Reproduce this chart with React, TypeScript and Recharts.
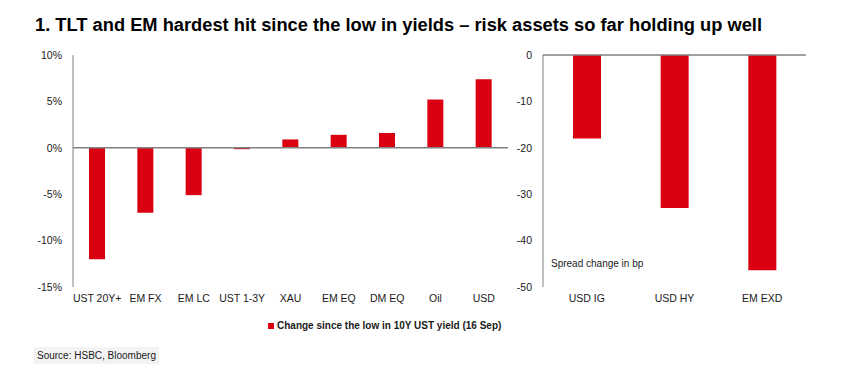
import { Bar, BarChart, ReferenceLine, XAxis, YAxis } from 'recharts';

const ASSETS = ['UST 20Y+', 'EM FX', 'EM LC', 'UST 1-3Y', 'XAU', 'EM EQ', 'DM EQ', 'Oil', 'USD'];
const ASSET_CHANGE = [-12.0, -7.0, -5.1, -0.15, 0.9, 1.4, 1.6, 5.2, 7.4];
const PCT_TICKS = [-15, -10, -5, 0, 5, 10];

const SPREADS = ['USD IG', 'USD HY', 'EM EXD'];
const SPREAD_CHANGE = [-18, -33, -46.4];
const BP_TICKS = [-50, -40, -30, -20, -10, 0];

const RED = '#db0011';
const GREY = '#808080';
const FONT = "'Liberation Sans', Arial, sans-serif";
const tick = { fill: '#1a1a1a', fontSize: 10.5, fontFamily: FONT };

export default function App() {
  const left = ASSETS.map((name, i) => ({ name, v: ASSET_CHANGE[i] }));
  const right = SPREADS.map((name, i) => ({ name, v: SPREAD_CHANGE[i] }));

  return (
    <div style={{ position: 'absolute', left: 0, top: 0, width: 865, height: 369, background: '#fff', fontFamily: FONT }}>
      <div
        style={{
          position: 'absolute',
          left: 35,
          top: 16,
          fontSize: 18.3,
          lineHeight: '18px',
          fontWeight: 'bold',
          color: '#000',
          whiteSpace: 'nowrap',
        }}
      >
        1. TLT and EM hardest hit since the low in yields – risk assets so far holding up well
      </div>

      <div style={{ position: 'absolute', left: 0, top: 0 }}>
        <BarChart width={520} height={320} data={left} margin={{ top: 55, right: 0, left: 0, bottom: 13 }}>
          <XAxis dataKey="name" axisLine={false} tickLine={false} tick={tick} interval={0} height={20} />
          <YAxis
            domain={[-15, 10]}
            ticks={PCT_TICKS}
            width={73}
            tickLine={false}
            tickMargin={5}
            axisLine={{ stroke: GREY }}
            tick={tick}
            tickFormatter={(v: number) => `${v}%`}
          />
          <YAxis
            yAxisId="r"
            orientation="right"
            domain={[-15, 10]}
            ticks={PCT_TICKS}
            width={12}
            axisLine={false}
            tickSize={4}
            tickLine={{ stroke: '#9a8a7a' }}
            tickFormatter={() => ''}
          />
          <ReferenceLine y={0} stroke={GREY} strokeWidth={1.5} />
          <Bar dataKey="v" fill={RED} barSize={16} isAnimationActive={false} />
        </BarChart>
      </div>

      <div style={{ position: 'absolute', left: 470, top: 0 }}>
        <BarChart width={350} height={320} data={right} margin={{ top: 55, right: 14, left: 0, bottom: 13 }}>
          <XAxis dataKey="name" axisLine={false} tickLine={false} tick={tick} interval={0} height={20} />
          <YAxis
            domain={[-50, 0]}
            ticks={BP_TICKS}
            width={73}
            tickLine={false}
            tickMargin={5}
            axisLine={{ stroke: GREY }}
            tick={tick}
          />
          <ReferenceLine y={0} stroke={GREY} strokeWidth={1.5} />
          <Bar dataKey="v" fill={RED} barSize={28} isAnimationActive={false} />
        </BarChart>
      </div>

      <div style={{ position: 'absolute', left: 551, top: 258, fontSize: 10, color: '#1a1a1a' }}>Spread change in bp</div>

      <div
        style={{
          position: 'absolute',
          left: 268,
          top: 319,
          fontSize: 10,
          lineHeight: '13px',
          fontWeight: 'bold',
          color: '#1a1a1a',
          display: 'flex',
          alignItems: 'center',
          whiteSpace: 'nowrap',
        }}
      >
        <span style={{ display: 'inline-block', width: 6, height: 6, background: RED, marginRight: 3 }} />
        Change since the low in 10Y UST yield (16 Sep)
      </div>

      <div
        style={{
          position: 'absolute',
          left: 34,
          top: 347,
          padding: '2px 3px',
          fontSize: 10,
          lineHeight: '13px',
          color: '#1a1a1a',
          background: '#f3f3f3',
          whiteSpace: 'nowrap',
        }}
      >
        Source: HSBC, Bloomberg
      </div>
    </div>
  );
}
